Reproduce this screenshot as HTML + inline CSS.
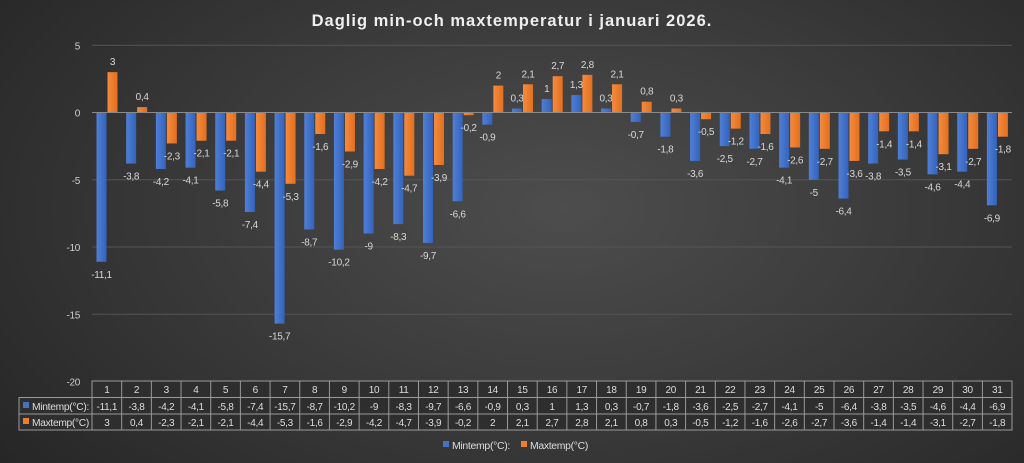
<!DOCTYPE html>
<html><head><meta charset="utf-8"><style>
html,body{margin:0;padding:0;width:1024px;height:463px;overflow:hidden}
body{background:radial-gradient(ellipse 70% 90% at 55% 45%,#4d4d4d 0%,#3c3c3c 45%,#262626 100%);font-family:"Liberation Sans",sans-serif}
text{letter-spacing:-0.3px}
</style></head><body>
<svg id="s" width="1024" height="463" xmlns="http://www.w3.org/2000/svg" style="position:absolute;left:0;top:0">
<defs>
<linearGradient id="gb" x1="0" x2="1"><stop offset="0" stop-color="#4f7fd6"/><stop offset="1" stop-color="#3463bb"/></linearGradient>
<linearGradient id="go" x1="0" x2="1"><stop offset="0" stop-color="#f58a3e"/><stop offset="1" stop-color="#e2701f"/></linearGradient>
</defs>
<text x="512" y="26" text-anchor="middle" fill="#eeeeee" font-size="16.5" font-weight="bold" style="letter-spacing:1px">Daglig min-och maxtemperatur i januari 2026.</text>
<g id="g"></g>
</svg>
<script>
var mn=[-11.1,-3.8,-4.2,-4.1,-5.8,-7.4,-15.7,-8.7,-10.2,-9,-8.3,-9.7,-6.6,-0.9,0.3,1,1.3,0.3,-0.7,-1.8,-3.6,-2.5,-2.7,-4.1,-5,-6.4,-3.8,-3.5,-4.6,-4.4,-6.9];
var mx=[3,0.4,-2.3,-2.1,-2.1,-4.4,-5.3,-1.6,-2.9,-4.2,-4.7,-3.9,-0.2,2,2.1,2.7,2.8,2.1,0.8,0.3,-0.5,-1.2,-1.6,-2.6,-2.7,-3.6,-1.4,-1.4,-3.1,-2.7,-1.8];
var y0=112.5,k=13.45,x0=92,cw=29.68,h='',fs=10;
function f(v){return String(v).replace('.',',');}
for(var t=5;t>=-20;t-=5){var y=y0-t*k;
 if(t!=0&&t!=-20)h+='<line x1="'+x0+'" x2="1012" y1="'+y+'" y2="'+y+'" stroke="#555" stroke-width="1"/>';
 h+='<text x="80" y="'+(y+4)+'" text-anchor="end" fill="#cfcfcf" font-size="'+fs+'">'+t+'</text>';}
function bar(v,x,fill){var y=v>=0?y0-v*k:y0,hh=Math.abs(v)*k;
 h+='<rect x="'+x+'" y="'+y+'" width="10" height="'+hh+'" fill="'+fill+'"/>';
 var ly=v>=0?y0-v*k-7:y0+hh+16;
 h+='<text x="'+(x+5)+'" y="'+ly+'" text-anchor="middle" fill="#d8d8d8" font-size="'+fs+'">'+f(v)+'</text>';}
for(var i=0;i<31;i++){var cx=x0+i*cw;bar(mn[i],cx+4.5,'url(#gb)');bar(mx[i],cx+15.5,'url(#go)');}
h+='<line x1="'+x0+'" x2="1012" y1="'+y0+'" y2="'+y0+'" stroke="#8a8a8a" stroke-width="1"/>';
var ty=[381,397.5,414,430],st='#9a9a9a';
h+='<rect x="19" y="397.5" width="73" height="32.5" fill="#2e2e2e" stroke="'+st+'"/>';
h+='<rect x="92" y="381" width="920" height="49" fill="#2e2e2e" stroke="'+st+'"/>';
for(var r=1;r<3;r++)h+='<line x1="19" x2="1012" y1="'+ty[r]+'" y2="'+ty[r]+'" stroke="'+st+'"/>';
for(var i=1;i<31;i++){var x=x0+i*cw;h+='<line x1="'+x+'" x2="'+x+'" y1="381" y2="430" stroke="'+st+'"/>';}
for(var i=0;i<31;i++){var c=x0+i*cw+cw/2;
 h+='<text x="'+c+'" y="393" text-anchor="middle" fill="#dddddd" font-size="'+fs+'">'+(i+1)+'</text>';
 h+='<text x="'+c+'" y="410" text-anchor="middle" fill="#dddddd" font-size="'+fs+'">'+f(mn[i])+'</text>';
 h+='<text x="'+c+'" y="426" text-anchor="middle" fill="#dddddd" font-size="'+fs+'">'+f(mx[i])+'</text>';}
h+='<rect x="23" y="402" width="6" height="6" fill="#4472c4"/><text x="32" y="410" fill="#dddddd" font-size="'+fs+'" textLength="57" lengthAdjust="spacingAndGlyphs">Mintemp(°C):</text>';
h+='<rect x="23" y="418" width="6" height="6" fill="#ed7d31"/><text x="32" y="426" fill="#dddddd" font-size="'+fs+'" textLength="57" lengthAdjust="spacingAndGlyphs">Maxtemp(°C)</text>';
h+='<rect x="443" y="441" width="6" height="6" fill="#4472c4"/><text x="452" y="449" fill="#dddddd" font-size="'+fs+'" textLength="58" lengthAdjust="spacingAndGlyphs">Mintemp(°C):</text>';
h+='<rect x="521" y="441" width="6" height="6" fill="#ed7d31"/><text x="530" y="449" fill="#dddddd" font-size="'+fs+'" textLength="58" lengthAdjust="spacingAndGlyphs">Maxtemp(°C)</text>';
document.getElementById('g').innerHTML=h;
</script>
</body></html>
